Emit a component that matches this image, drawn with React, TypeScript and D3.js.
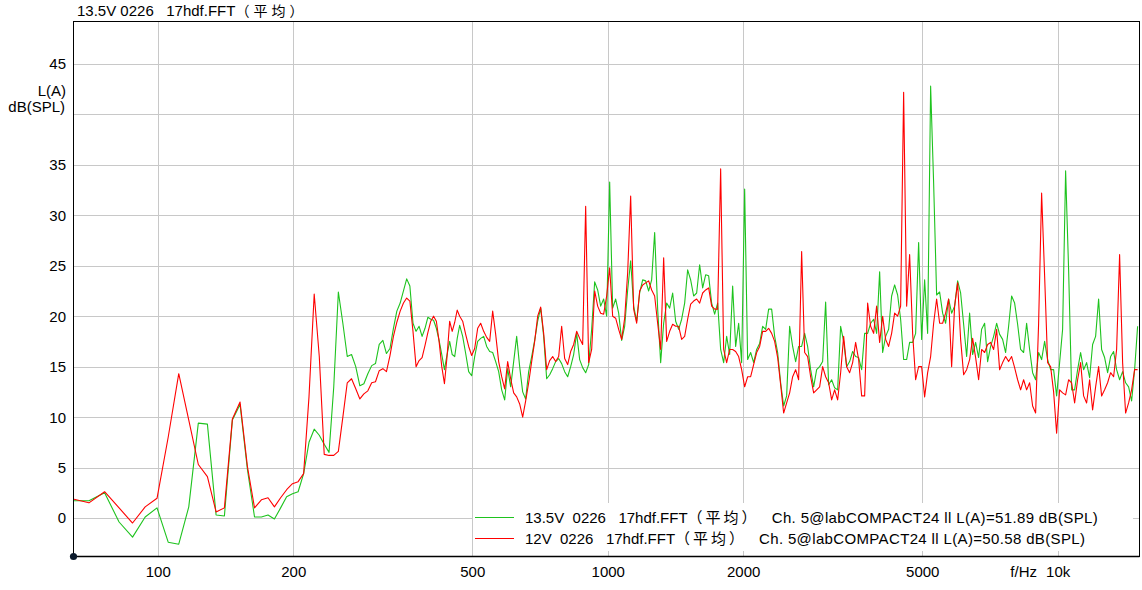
import React from 'react';
import * as d3 from 'd3';

// FFT bins (48 kHz / 8192) shown individually at the low end
const BIN_HZ = 48000 / 8192;
const lowBins = d3.range(11, 81);
// above ~476 Hz the traces are read at 150 points per decade
const HI_START_HZ = 476;
const HI_PER_DECADE = 150;

const lowGreen = [
  1.7, 1.7, 2.5, -0.4, -1.9, 0.1, 1.0, -2.4, -2.6, 1.1,
  9.4, 9.3, 0.3, 0.2, 9.7, 11.25, 4.8, 0.1, 0.1, 0.3,
  -0.1, 1.0, 2.1, 2.4, 2.6, 4.4, 7.5, 8.8, 8.2, 7.3,
  6.5, 13.0, 22.4, 19.3, 16.0, 16.2, 15.0, 13.1, 13.3, 14.3,
  15.1, 15.3, 17.2, 17.6, 16.3, 16.8, 18.8, 20.5, 21.3, 22.5,
  23.7, 23.0, 19.3, 18.5, 19.0, 18.0, 18.8, 19.9, 19.7, 19.6,
  18.8, 17.6, 16.2, 14.7, 16.2, 17.5, 16.2, 16.0, 17.8, 19.1,
];
const lowRed = [
  1.9, 1.5, 2.6, 1.0, -0.5, 1.1, 1.95, 8.0, 14.3, 9.7,
  5.3, 4.1, 0.6, 1.0, 9.8, 11.5, 5.1, 1.0, 1.8, 2.0,
  1.1, 2.0, 2.8, 3.4, 3.6, 4.4, 12.0, 22.2, 16.0, 6.3,
  6.2, 6.2, 6.6, 10.0, 13.4, 13.8, 12.8, 11.8, 12.3, 12.6,
  13.4, 13.5, 14.6, 14.8, 14.5, 16.1, 18.0, 19.4, 20.5, 21.3,
  21.8, 21.5, 18.5, 15.0, 15.6, 15.9, 17.1, 18.4, 19.5, 20.0,
  19.5, 17.5, 15.0, 13.3, 16.0, 19.5, 18.5, 19.4, 20.6, 20.0,
];

const hiGreen = [
  18.0, 16.3, 14.5, 14.1, 16.0, 17.5, 17.8, 18.0, 17.0, 16.5,
  16.4, 15.5, 14.5, 12.7, 11.7, 14.8, 13.0, 15.5, 18.0, 15.0,
  12.5, 11.8, 14.5, 16.0, 17.6, 19.5, 20.8, 18.0, 13.8, 14.2,
  14.8, 15.5, 15.8, 15.3, 14.5, 14.0, 15.0, 16.2, 18.3, 15.7,
  14.9, 14.4, 15.2, 18.7, 23.4, 22.6, 21.0, 21.7, 20.0, 33.3,
  20.8, 21.7, 20.3, 17.6, 19.0, 22.6, 25.5, 21.0, 19.5, 22.3,
  23.6, 23.5, 22.5, 23.6, 28.3, 20.7, 15.4, 19.3, 21.3, 20.8,
  22.3, 19.5, 18.7, 19.7, 21.3, 24.6, 23.6, 22.0, 22.3, 25.1,
  22.8, 24.1, 24.0, 21.3, 20.2, 21.3, 16.7, 15.4, 18.0, 16.2,
  23.0, 17.0, 19.3, 15.4, 32.6, 15.7, 16.4, 15.4, 16.7, 17.3,
  19.0, 18.7, 20.7, 20.7, 18.0, 16.4,
  13.4, 11.1, 12.1, 19.0, 17.0, 15.5, 17.0, 17.0, 18.3, 17.0,
  14.7, 13.0, 14.7, 15.0, 15.5, 21.4, 13.2, 13.7, 12.9, 12.7,
  19.0, 17.5, 15.0, 15.5, 16.5, 16.0, 15.9, 14.7, 18.3, 18.3,
  19.3, 19.7, 18.3, 24.4, 16.4, 18.0, 18.7, 22.0, 23.1, 22.1,
  19.7, 15.7, 15.7, 17.4, 17.4, 18.3, 27.3, 17.7, 23.6, 18.3,
  42.8, 33.2, 22.1, 22.4, 20.3, 19.3, 21.7, 20.3, 21.0, 23.5,
  22.3, 19.2, 16.0, 20.3, 16.2, 17.4, 15.9, 18.7, 19.3, 15.5,
  17.0, 18.0, 19.3, 18.2, 17.7, 16.4, 19.0, 22.0, 21.3, 19.2,
  16.7, 16.4, 19.3, 16.7, 14.4, 13.7, 16.4, 15.7, 17.5, 15.7,
  14.7, 14.7, 12.1, 15.4, 18.7, 34.4, 24.6, 12.7, 12.7, 14.7,
  16.4, 14.7, 15.4, 13.9, 17.2, 18.0, 21.7, 16.7, 15.9, 14.4,
  16.0, 16.5, 14.7, 13.7, 14.5, 13.4, 13.0, 11.6, 14.7, 19.0,
];
const hiRed = [
  19.5, 18.2, 17.0, 16.1, 16.8, 18.8, 19.3, 18.5, 17.9, 17.5,
  20.5, 18.2, 15.5, 14.0, 12.8, 15.5, 13.8, 12.4, 12.0, 11.3,
  10.0, 11.6, 13.4, 15.5, 17.5, 20.0, 20.9, 18.3, 14.7, 15.6,
  16.0, 15.5, 16.0, 19.0, 15.8, 15.2, 16.5, 17.2, 18.5, 17.8,
  17.2, 30.9, 15.4, 16.7, 22.5, 21.0, 20.3, 20.2, 22.0, 24.8,
  20.0, 19.8, 18.7, 17.7, 19.8, 24.3, 31.9, 20.7, 19.3, 22.5,
  23.1, 23.3, 23.5, 22.6, 22.0, 19.3, 16.7, 25.8, 17.5, 18.5,
  19.2, 19.0, 19.0, 17.7, 18.0, 19.7, 21.2, 21.5, 21.7, 21.3,
  22.3, 22.6, 22.8, 21.0, 20.7, 20.7, 34.6, 16.7, 15.4, 16.7,
  16.7, 16.5, 16.0, 14.7, 13.0, 14.0, 14.0, 15.2, 16.4, 17.0,
  18.5, 18.5, 18.8, 18.3, 17.5, 15.9,
  13.2, 10.4, 11.4, 12.4, 14.0, 14.7, 13.7, 26.4, 16.4, 16.0,
  14.0, 12.4, 12.7, 13.0, 15.0, 14.0, 13.4, 11.7, 12.7, 11.7,
  14.4, 18.0, 15.0, 14.4, 15.4, 17.4, 15.7, 12.1, 12.1, 21.3,
  19.0, 18.3, 21.0, 17.4, 20.0, 17.7, 17.0, 18.3, 20.3, 20.0,
  21.0, 42.2, 21.0, 26.1, 18.3, 13.7, 15.0, 15.0, 12.0, 14.4,
  16.0, 19.3, 21.7, 19.3, 19.3, 20.3, 21.7, 15.0, 21.0, 23.3,
  17.7, 14.2, 14.7, 15.7, 17.8, 15.9, 13.7, 16.7, 16.4, 17.2,
  17.4, 16.7, 18.7, 14.7, 15.4, 16.0, 15.5, 16.0, 14.9, 13.7,
  12.7, 13.7, 12.7, 13.4, 11.1, 10.4, 19.3, 32.2, 24.0, 15.4,
  15.0, 12.5, 8.4, 12.7, 12.4, 12.2, 13.7, 13.4, 11.4, 13.7,
  15.4, 12.1, 11.4, 13.7, 10.7, 13.0, 15.0, 12.1, 12.7, 13.4,
  14.4, 14.0, 16.7, 26.1, 15.4, 10.4, 11.4, 12.7, 14.7, 14.7,
];

const yGrid = [0, 5, 10, 15, 20, 25, 30, 35, 40, 45];
const yTickLabels = [0, 5, 10, 15, 20, 25, 30, 35, 45];
const xTicks = [100, 200, 500, 1000, 2000, 5000, 10000];
const xTickLabels = ['100', '200', '500', '1000', '2000', '5000', '10k'];

const titleMain = '13.5V 0226   17hdf.FFT';
const avgTag = '（平均）';
const seriesFiles = ['13.5V  0226   17hdf.FFT', '12V  0226   17hdf.FFT'];
const seriesDetails = [
  'Ch. 5@labCOMPACT24 ll L(A)=51.89 dB(SPL)',
  'Ch. 5@labCOMPACT24 ll L(A)=50.58 dB(SPL)',
];
const seriesColors = ['#1ec31e', '#ff0000'];

const FONT = "'Liberation Sans', Arial, 'Noto Sans CJK SC', sans-serif";
const CJK = "'Noto Sans CJK SC', 'Liberation Sans', sans-serif";

function buildSeries(low: number[], hi: number[]): [number, number][] {
  const pts: [number, number][] = low.map((v, i) => [lowBins[i] * BIN_HZ, v]);
  hi.forEach((v, i) => pts.push([HI_START_HZ * Math.pow(10, i / HI_PER_DECADE), v]));
  return pts;
}

export default function App() {
  const W = 1142, H = 590;
  const L = 73, R = 1139, T = 21, B = 556;
  const x = d3.scaleLog().domain([64.8, 15160]).range([L, R]);
  const y = d3.scaleLinear().domain([-3.77, 49.26]).range([B, T]);
  const line = d3.line<[number, number]>().x(d => x(d[0])).y(d => y(d[1]));
  const series = [buildSeries(lowGreen, hiGreen), buildSeries(lowRed, hiRed)];
  const detailX = [771.7, 759];

  return (
    <svg width={W} height={H} style={{ position: 'absolute', left: 0, top: 0, background: '#fff' }}
      fontFamily={FONT}>
      <defs>
        <clipPath id="plot">
          <rect x={L} y={T} width={R - L} height={B - T} />
        </clipPath>
      </defs>
      <rect x={0} y={0} width={W} height={H} fill="#fff" />
      <text x={77} y={16} fontSize={15} fill="#000" style={{ whiteSpace: 'pre' }}>
        <tspan>{titleMain}</tspan>
        <tspan fontSize={14} fontFamily={CJK} letterSpacing={4}>{avgTag}</tspan>
      </text>
      {/* grid */}
      <g shapeRendering="crispEdges" stroke="#c8c8c8" strokeWidth={1}>
        {yGrid.map(v => (
          <line key={'h' + v} x1={L} x2={R} y1={Math.round(y(v)) + 0.5} y2={Math.round(y(v)) + 0.5} />
        ))}
        {xTicks.map(f => (
          <line key={'v' + f} x1={Math.round(x(f)) + 0.5} x2={Math.round(x(f)) + 0.5} y1={T} y2={B} />
        ))}
      </g>
      {/* data */}
      <g clipPath="url(#plot)" fill="none" strokeWidth={1.1} strokeLinejoin="round">
        {series.map((s, i) => (
          <path key={i} d={line(s) || ''} stroke={seriesColors[i]} />
        ))}
      </g>
      {/* legend */}
      <rect x={473} y={503} width={660} height={48} fill="#fff" />
      {seriesFiles.map((name, i) => (
        <g key={name}>
          <line x1={475} x2={514} y1={517.5 + i * 21} y2={517.5 + i * 21} stroke={seriesColors[i]} strokeWidth={1.2} />
          <text x={525} y={523 + i * 21} fontSize={15} fill="#000" style={{ whiteSpace: 'pre' }}>
            <tspan>{name}</tspan>
            <tspan fontSize={15} fontFamily={CJK} letterSpacing={3}>{avgTag}</tspan>
          </text>
          <text x={detailX[i]} y={523 + i * 21} fontSize={15} fill="#000" textLength={326}
            lengthAdjust="spacing">{seriesDetails[i]}</text>
        </g>
      ))}
      {/* frame */}
      <rect x={L + 0.5} y={T + 0.5} width={R - L} height={B - T} fill="none" stroke="#000" strokeWidth={1}
        shapeRendering="crispEdges" />
      <line x1={L + 0.5} x2={R + 0.5} y1={B + 0.5} y2={B + 0.5} stroke="#000" strokeWidth={1.5} />
      <circle cx={L + 0.5} cy={B + 0.5} r={3.6} fill="#0b1a2c" />
      {/* y labels */}
      {yTickLabels.map(v => (
        <text key={'yl' + v} x={66} y={y(v) + 5.5} fontSize={15} textAnchor="end" fill="#000">{v}</text>
      ))}
      <text x={66} y={95.5} fontSize={15} textAnchor="end" fill="#000">L(A)</text>
      <text x={65} y={111.5} fontSize={15} textAnchor="end" fill="#000">dB(SPL)</text>
      {/* x labels */}
      {xTicks.map((f, i) => (
        <text key={'xl' + f} x={x(f) + 0.5} y={577} fontSize={15} textAnchor="middle" fill="#000">{xTickLabels[i]}</text>
      ))}
      <text x={1037} y={577} fontSize={15} textAnchor="end" fill="#000">f/Hz</text>
    </svg>
  );
}
